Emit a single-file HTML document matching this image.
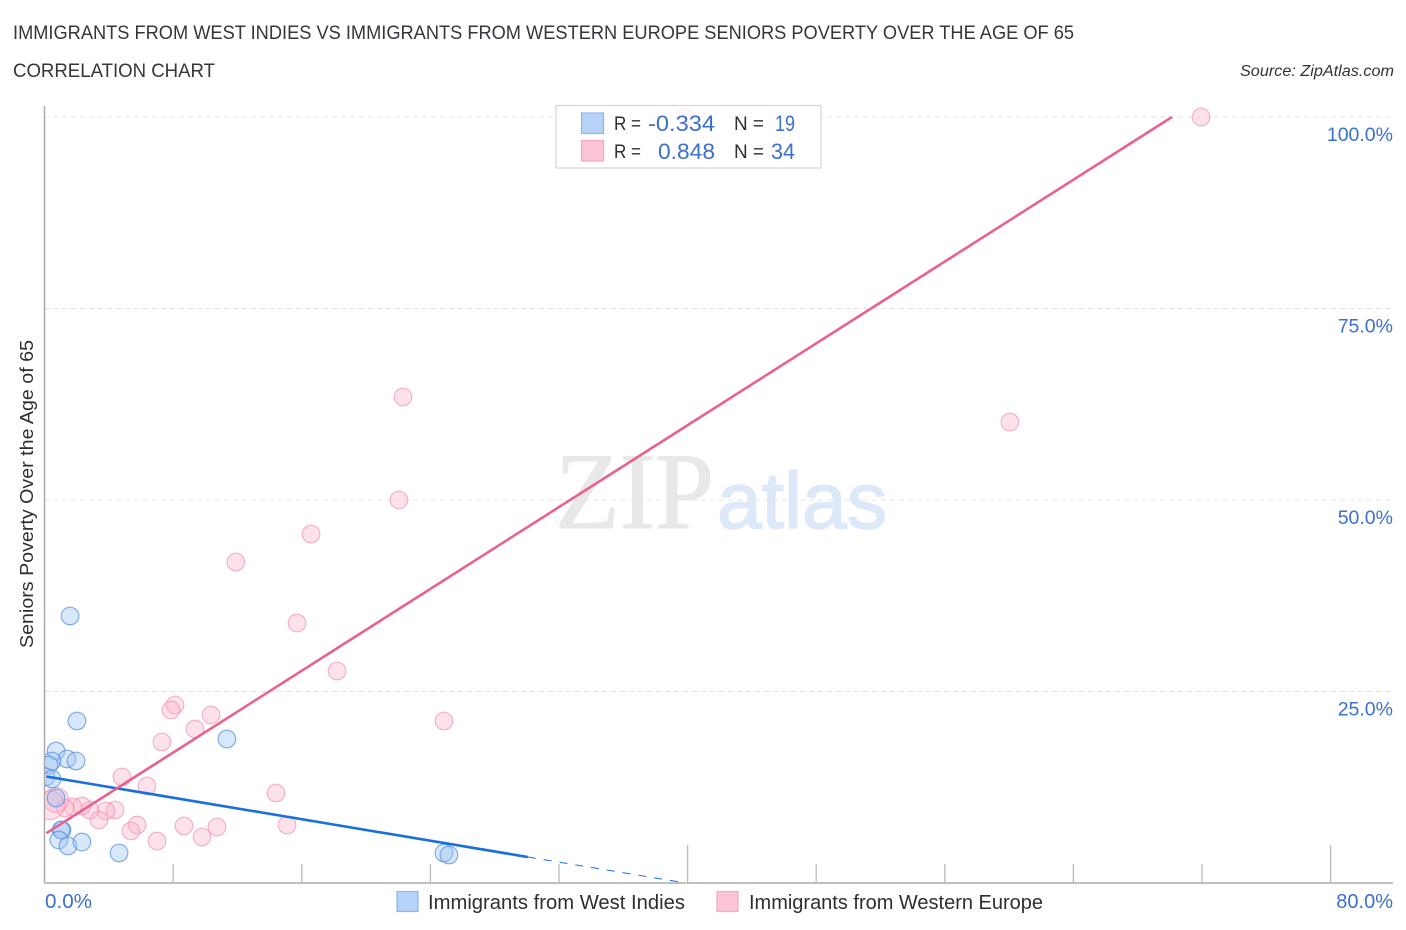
<!DOCTYPE html>
<html lang="en">
<head>
<meta charset="utf-8">
<title>Immigrants from West Indies vs Immigrants from Western Europe Seniors Poverty Correlation Chart</title>
<style>
html,body{margin:0;padding:0;background:#fff;width:1406px;height:930px;overflow:hidden}
svg{display:block;font-family:"Liberation Sans",sans-serif}
</style>
</head>
<body>
<svg id="chart" xmlns="http://www.w3.org/2000/svg" width="1406" height="930" viewBox="0 0 1406 930">
  <defs><clipPath id="plot-clip"><rect x="45" y="100" width="1348" height="783"/></clipPath></defs>
  <text x="13" y="39" font-size="19.5" fill="#33373b" textLength="1061" lengthAdjust="spacingAndGlyphs">IMMIGRANTS FROM WEST INDIES VS IMMIGRANTS FROM WESTERN EUROPE SENIORS POVERTY OVER THE AGE OF 65</text>
  <text x="13" y="77" font-size="19.5" fill="#33373b" textLength="202" lengthAdjust="spacingAndGlyphs">CORRELATION CHART</text>
  <text x="1394" y="76" font-size="15.5" font-style="italic" fill="#333" text-anchor="end" textLength="154" lengthAdjust="spacingAndGlyphs">Source: ZipAtlas.com</text>
  <g>
    <text x="555" y="528" font-family="'Liberation Serif',serif" font-size="109" fill="#e8e8e8" stroke="#e8e8e8" stroke-width="1" textLength="159" lengthAdjust="spacingAndGlyphs">ZIP</text>
    <text x="717" y="528" font-size="80" fill="#dde8f8" stroke="#dde8f8" stroke-width="1.5" textLength="170" lengthAdjust="spacingAndGlyphs">atlas</text>
  </g>
  <g id="grid"></g>
  <g id="axes"></g>
  <g id="points" clip-path="url(#plot-clip)"></g>
  <g id="trends"></g>
  <text transform="translate(33,648) rotate(-90)" font-size="18.5" fill="#2b2f33" textLength="308" lengthAdjust="spacingAndGlyphs">Seniors Poverty Over the Age of 65</text>

  <g>
    <rect x="556" y="105.5" width="265" height="62.5" fill="#fff" fill-opacity="0.78" stroke="#d4d4d4" stroke-width="1.2"/>
    <rect x="581.5" y="113" width="22" height="20.5" fill="#b7d2f7" stroke="#8db6ea" stroke-width="1.2"/>
    <rect x="581.5" y="140.5" width="22" height="20.5" fill="#fcc5d6" stroke="#f4a9c0" stroke-width="1.2"/>
    <g font-size="19" fill="#2b2f33">
      <text x="614" y="130" textLength="27" lengthAdjust="spacingAndGlyphs">R =</text>
      <text x="734" y="130" textLength="30" lengthAdjust="spacingAndGlyphs">N =</text>
      <text x="614" y="158" textLength="27" lengthAdjust="spacingAndGlyphs">R =</text>
      <text x="734" y="158" textLength="30" lengthAdjust="spacingAndGlyphs">N =</text>
    </g>
    <g font-size="22" fill="#3b70cf">
      <text x="648" y="131" textLength="67" lengthAdjust="spacingAndGlyphs">-0.334</text>
      <text x="775" y="131" textLength="20" lengthAdjust="spacingAndGlyphs">19</text>
      <text x="658" y="159" textLength="57" lengthAdjust="spacingAndGlyphs">0.848</text>
      <text x="771" y="159" textLength="24" lengthAdjust="spacingAndGlyphs">34</text>
    </g>
  </g>

  <g>
    <rect x="397" y="891.5" width="21" height="20" fill="#b7d2f7" stroke="#8db6ea" stroke-width="1.2"/>
    <text x="428" y="909" font-size="20" fill="#2b2f33" textLength="257" lengthAdjust="spacingAndGlyphs">Immigrants from West Indies</text>
    <rect x="717" y="891.5" width="21" height="20" fill="#fcc5d6" stroke="#f4a9c0" stroke-width="1.2"/>
    <text x="749" y="909" font-size="20" fill="#2b2f33" textLength="294" lengthAdjust="spacingAndGlyphs">Immigrants from Western Europe</text>
  </g>
</svg>
<script>
// Chart data (percent values)
const yTicks = [25, 50, 75, 100];
const yTickLabels = ['25.0%', '50.0%', '75.0%', '100.0%'];
const xTicks = [0, 8, 16, 24, 32, 40, 48, 56, 64, 72, 80];
const xMajorTicks = [40, 80];
const xEndLabels = ['0.0%', '80.0%'];

const westIndiesX = [1.62, 2.05, 11.38, 0.75, 1.43, 1.99, 0.50, 0.31, 0.12, 0.50, 0.75, 1.12, 1.06, 0.93, 1.49, 2.36, 4.67, 24.88, 25.19];
const westIndiesY = [34.86, 21.15, 18.80, 17.23, 16.19, 15.93, 15.93, 15.40, 13.84, 13.58, 11.10, 6.92, 6.92, 5.61, 4.83, 5.35, 3.92, 3.92, 3.66];

const westernEuropeX = [71.98, 39.88, 60.09, 22.33, 22.08, 16.61, 11.94, 15.74, 18.23, 24.88, 8.15, 7.90, 10.39, 9.39, 7.34, 4.85, 6.41, 14.43, 15.12, 10.76, 8.71, 9.83, 7.03, 5.79, 5.41, 4.42, 3.86, 3.42, 2.86, 2.36, 1.80, 1.31, 0.75, 0.37];
const westernEuropeY = [100, 100, 60.18, 63.45, 50, 45.56, 41.91, 33.94, 27.68, 21.15, 23.24, 22.58, 21.93, 20.10, 18.41, 13.84, 12.66, 11.75, 7.57, 7.31, 7.44, 6.01, 5.48, 7.57, 6.79, 9.53, 9.40, 8.22, 9.53, 10.05, 9.92, 9.79, 10.84, 10.18];
const westernEuropeWeight = [1, 1, 1, 1, 1, 1, 1, 1, 1, 1, 1, 1, 1, 1, 1, 1, 1, 1, 1, 1, 1, 1, 1, 1, 1, 1, 1, 1, 1, 1, 1, 1, 2, 2.7];

const westIndiesTrendX = [0.15, 30.1, 39.56];
const westIndiesTrendY = [13.9, 3.39, 0.13];
const westernEuropeTrendX = [0.15, 70.17];
const westernEuropeTrendY = [6.5, 100];

// Axis functions
const NS = 'http://www.w3.org/2000/svg';
const xPos = v => 44 + v * (1286 / 80);
const yPos = v => 883 - v * 7.66;
function mk(tag, attrs, parent, text) {
  const el = document.createElementNS(NS, tag);
  for (const k in attrs) el.setAttribute(k, attrs[k]);
  if (text !== undefined) el.textContent = text;
  parent.appendChild(el);
  return el;
}

const grid = document.getElementById('grid');
const axes = document.getElementById('axes');
const points = document.getElementById('points');
const trends = document.getElementById('trends');

yTicks.forEach((t, i) => {
  const line = mk('line', {x1: 44, x2: 1393, y1: yPos(t), y2: yPos(t), stroke: '#e4e4e4', 'stroke-width': 1, 'stroke-dasharray': '5 4'}, grid);
  
  
  const label = mk('text', {x: 1393, y: yPos(t) + 24, 'font-size': 19.5, fill: '#3b70cf', 'text-anchor': 'end'}, axes, yTickLabels[i]);
  
  
});

const yAxis = mk('line', {x1: 44.5, x2: 44.5, y1: 106, y2: 883, stroke: '#aaa', 'stroke-width': 1.5}, axes);


const xAxis = mk('line', {x1: 44, x2: 1393, y1: 883, y2: 883, stroke: '#c0c0c0', 'stroke-width': 2}, axes);



xTicks.slice(1).forEach(t => {
  const top = xMajorTicks.includes(t) ? 845 : 864;
  const tick = mk('line', {x1: xPos(t) + 0.6, x2: xPos(t) + 0.6, y1: top, y2: 883, stroke: '#bbb', 'stroke-width': 1.3}, axes);
  
  
});

const xLabelStart = mk('text', {x: 45, y: 908, 'font-size': 20, fill: '#3b70cf', textLength: 47, lengthAdjust: 'spacingAndGlyphs'}, axes, xEndLabels[0]);


const xLabelEnd = mk('text', {x: 1393, y: 908, 'font-size': 20, fill: '#3b70cf', 'text-anchor': 'end'}, axes, xEndLabels[1]);



westernEuropeX.forEach((v, i) => {
  const dot = mk('circle', {cx: xPos(v), cy: yPos(westernEuropeY[i]), r: 8.8 * Math.sqrt(westernEuropeWeight[i]), fill: '#f9b4ca', 'fill-opacity': 0.38, stroke: '#f08fae', 'stroke-opacity': 0.65, 'stroke-width': 1.2}, points);
  
  
});
westIndiesX.forEach((v, i) => {
  const dot = mk('circle', {cx: xPos(v), cy: yPos(westIndiesY[i]), r: 8.8, fill: '#9fc4f3', 'fill-opacity': 0.4, stroke: '#4f8ddf', 'stroke-opacity': 0.7, 'stroke-width': 1.2}, points);
  
  
});

const blueSolid = mk('line', {x1: xPos(westIndiesTrendX[0]), y1: yPos(westIndiesTrendY[0]), x2: xPos(westIndiesTrendX[1]), y2: yPos(westIndiesTrendY[1]), stroke: '#1b6fdc', 'stroke-width': 2.6}, trends);


const blueDash = mk('line', {x1: xPos(westIndiesTrendX[1]), y1: yPos(westIndiesTrendY[1]), x2: xPos(westIndiesTrendX[2]), y2: yPos(westIndiesTrendY[2]), stroke: '#1b6fdc', 'stroke-width': 1, 'stroke-dasharray': '8 8'}, trends);


const pinkLine = mk('line', {x1: xPos(westernEuropeTrendX[0]), y1: yPos(westernEuropeTrendY[0]), x2: xPos(westernEuropeTrendX[1]), y2: yPos(westernEuropeTrendY[1]), stroke: '#e8618f', 'stroke-width': 2.6}, trends);


</script>
</body>
</html>
